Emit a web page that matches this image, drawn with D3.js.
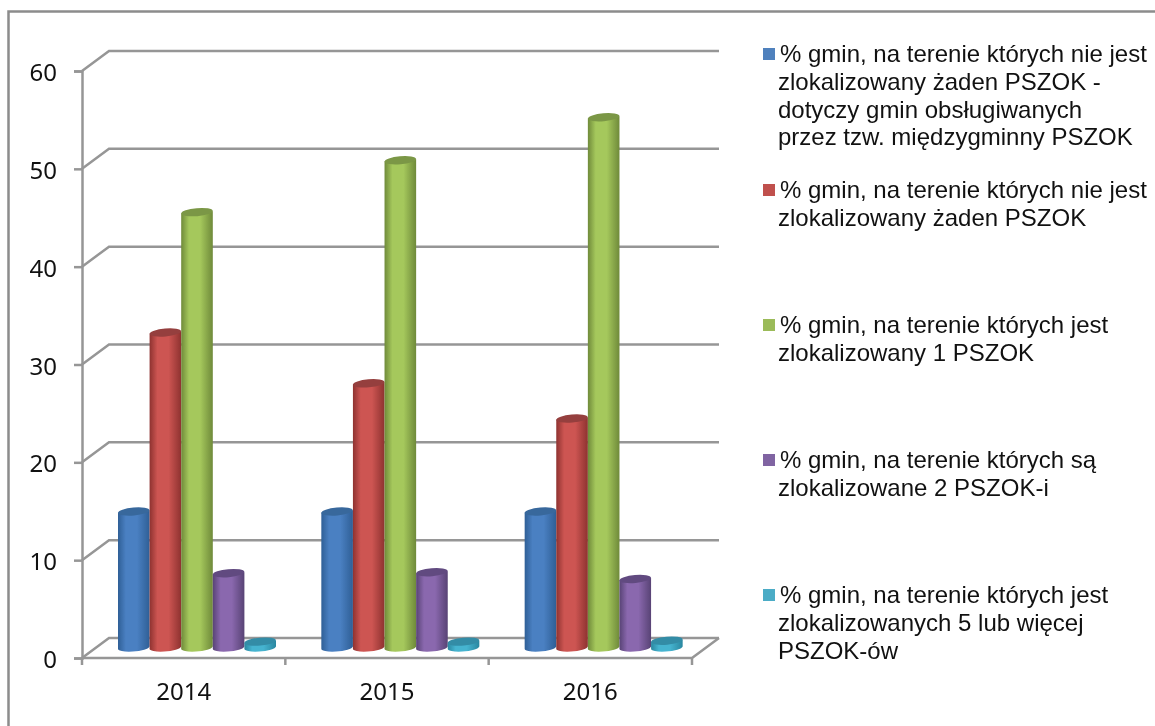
<!DOCTYPE html>
<html>

<head>
    <title>PSZOK</title>
    <script src="https://d3js.org/d3.v7.min.js"></script>
    <style>
        html, body { margin: 0; padding: 0; background: #fff; }
        svg { display: block; filter: blur(0.45px); }
    </style>
</head>

<body>
    <div id="chart"></div>
    <script>
        const years = ["2014", "2015", "2016"];
        const yTicks = [0, 10, 20, 30, 40, 50, 60];

        const series1 = [13.9, 13.9, 13.9];
        const series2 = [32.2, 27.0, 23.4];
        const series3 = [44.5, 49.8, 54.2];
        const series4 = [7.6, 7.7, 7.0];
        const series5 = [0.6, 0.6, 0.7];
        const allSeries = [series1, series2, series3, series4, series5];

        const seriesColors = ["#4f81bd", "#c0504d", "#9bbb59", "#8064a2", "#4bacc6"];
        const sideColors = ["#2f5f96", "#8e3230", "#6f8a3a", "#584375", "#2a87a0"];
        const midColors = ["#4a80c2", "#cd5552", "#a5c85c", "#8a68ae", "#46b4d0"];
        const capColors = ["#38689c", "#953f3e", "#7b9746", "#614a80", "#338ca6"];

        const legendLines = [
            ["% gmin, na terenie których nie jest", "zlokalizowany żaden PSZOK -", "dotyczy gmin obsługiwanych", "przez tzw. międzygminny PSZOK"],
            ["% gmin, na terenie których nie jest", "zlokalizowany żaden PSZOK"],
            ["% gmin, na terenie których jest", "zlokalizowany 1 PSZOK"],
            ["% gmin, na terenie których są", "zlokalizowane 2 PSZOK-i"],
            ["% gmin, na terenie których jest", "zlokalizowanych 5 lub więcej", "PSZOK-ów"]
        ];
        const legendBaselines = [62, 198, 333, 468, 603];

        const width = 1155, height = 726;
        const gridColor = "#969696";
        const gridWidth = 2.5;

        // how far the back wall is pushed from the front of the box
        const depthX = 27, depthY = 20;

        var svg = d3.select("#chart")
            .append("svg")
            .attr("width", width)
            .attr("height", height);

        //Outer frame
        svg.append("path")
            .attr("d", "M8.5,726V11.5H1155")
            .attr("fill", "none")
            .attr("stroke", "#8c8c8c")
            .attr("stroke-width", 2.5);

        const x = d3.scaleBand()
            .domain(years)
            .range([82, 692]);

        const y = d3.scaleLinear()
            .domain([0, 60])
            .range([658, 71]);

        const xSeries = d3.scaleBand()
            .domain(d3.range(allSeries.length))
            .range([36, 194]);

        //Gridlines on the back wall, with the short diagonal on the side wall
        var grid = svg.append("g")
            .attr("fill", "none")
            .attr("stroke", gridColor)
            .attr("stroke-width", gridWidth);

        grid.selectAll("path")
            .data(yTicks)
            .enter()
            .append("path")
            .attr("d", function (d) {
                return "M" + x.range()[0] + "," + y(d) + "L" + (x.range()[0] + depthX) + "," + (y(d) - depthY) + "H" + (x.range()[1] + depthX);
            });

        //Front edge of the floor and its right side
        grid.append("path")
            .attr("d", "M" + x.range()[0] + "," + y(0) + "H" + x.range()[1] + "L" + (x.range()[1] + depthX) + "," + (y(0) - depthY));

        // Add Y axis
        var yAxis = svg.append("g")
            .attr("transform", "translate(" + x.range()[0] + ",0)")
            .call(d3.axisLeft(y).tickValues(yTicks).tickSize(8).tickPadding(17));
        yAxis.select(".domain").attr("stroke", gridColor).attr("stroke-width", gridWidth);
        yAxis.selectAll("line").attr("stroke", gridColor).attr("stroke-width", gridWidth);
        yAxis.selectAll("text")
            .attr("dy", "0.4em")
            .style("font-family", "'Noto Sans'")
            .style("font-size", "24px")
            .attr("fill", "#111");

        // Add X axis, ticks sit on the band edges
        svg.append("g")
            .selectAll("line")
            .data(years.map(function (d) { return x(d); }).concat(x.range()[1]))
            .enter()
            .append("line")
            .attr("x1", function (d) { return d; })
            .attr("x2", function (d) { return d; })
            .attr("y1", y(0))
            .attr("y2", y(0) + 7)
            .attr("stroke", gridColor)
            .attr("stroke-width", gridWidth);

        svg.append("g")
            .selectAll("text")
            .data(years)
            .enter()
            .append("text")
            .attr("x", function (d) { return x(d) + x.bandwidth() / 2; })
            .attr("y", 700)
            .attr("text-anchor", "middle")
            .style("font-family", "'Noto Sans'")
            .style("font-size", "24px")
            .attr("fill", "#111")
            .text(function (d) { return d; });

        //Cylinder shading
        var defs = svg.append("defs");
        allSeries.forEach(function (s, i) {
            var grad = defs.append("linearGradient")
                .attr("id", "cyl" + i);
            grad.append("stop").attr("offset", "0%").attr("stop-color", sideColors[i]);
            grad.append("stop").attr("offset", "25%").attr("stop-color", midColors[i]);
            grad.append("stop").attr("offset", "60%").attr("stop-color", midColors[i]);
            grad.append("stop").attr("offset", "100%").attr("stop-color", sideColors[i]);
        });

        //Bars, zero sits half way into the floor
        const baseY = y(0) - depthY / 2 - 0.5;
        const capRy = 4;

        var bars = svg.append("g");
        allSeries.forEach(function (values, i) {
            years.forEach(function (year, j) {
                var left = x(year) + xSeries(i);
                var w = xSeries.bandwidth();
                var top = baseY - (y(0) - y(values[j]));
                var g = bars.append("g");
                g.append("path")
                    .attr("d", "M" + left + "," + (top + 1)
                        + "V" + (baseY + 1)
                        + "A" + (w / 2) + "," + capRy + " -5 0 0 " + (left + w) + "," + (baseY - 1)
                        + "V" + (top - 1) + "Z")
                    .attr("fill", "url(#cyl" + i + ")");
                g.append("ellipse")
                    .attr("cx", left + w / 2)
                    .attr("cy", top)
                    .attr("rx", w / 2)
                    .attr("ry", capRy)
                    .attr("transform", "rotate(-5 " + (left + w / 2) + " " + top + ")")
                    .attr("fill", capColors[i]);
            });
        });

        //Legend
        var legend = svg.append("g")
            .style("font-family", "'Liberation Sans'")
            .style("font-size", "24px")
            .attr("fill", "#111");

        legendLines.forEach(function (lines, i) {
            legend.append("rect")
                .attr("x", 763)
                .attr("y", legendBaselines[i] - 14)
                .attr("width", 12)
                .attr("height", 12)
                .attr("fill", seriesColors[i]);
            lines.forEach(function (line, k) {
                legend.append("text")
                    .attr("x", k === 0 ? 780 : 778)
                    .attr("y", legendBaselines[i] + k * 27.8)
                    .text(line);
            });
        });
    </script>

</body>

</html>
